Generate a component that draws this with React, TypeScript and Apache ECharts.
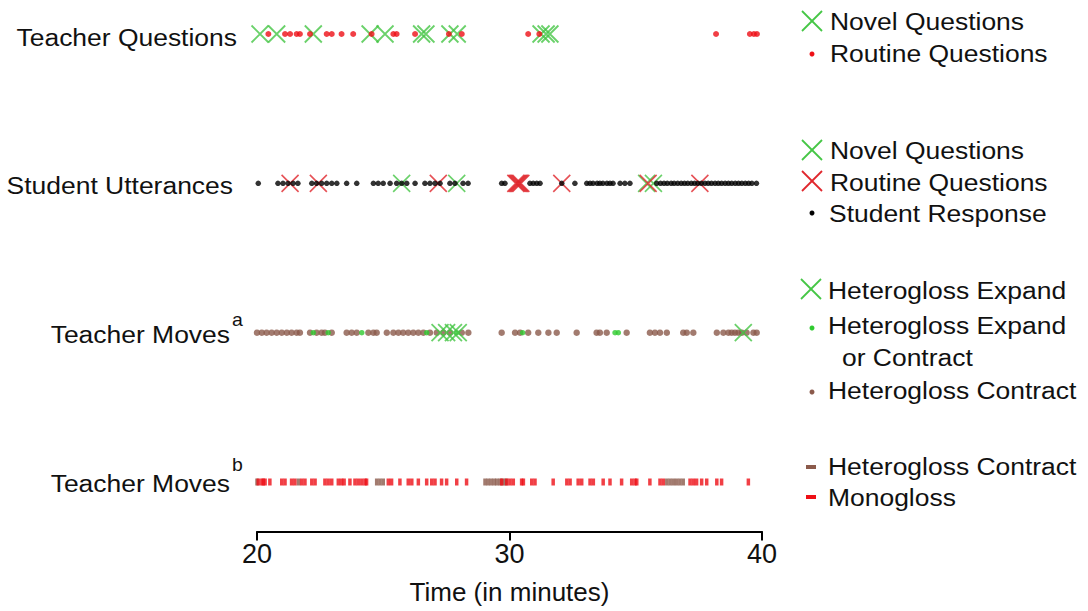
import React, { useEffect, useRef } from "react";
import * as echarts from "echarts";

// Row labels and legend labels
const rowLabels = ["Teacher Questions", "Student Utterances", "Teacher Moves", "Teacher Moves"];
const xTicks = [20, 30, 40];

// Row 1: Teacher Questions (minutes)
const tqNovel = [20.12, 20.78, 22.23, 24.48, 25.07, 26.52, 26.69, 27.64, 27.93, 31.25, 31.45, 31.6];
const tqRoutine = [20.45, 21.11, 21.31, 21.57, 21.7, 22.1, 22.76, 22.96, 23.35, 23.81, 24.54, 25.4, 25.53, 26.26, 27.6, 28.11, 30.74, 31.18, 38.18, 39.52, 39.68, 39.8];

// Row 2: Student Utterances
const suNovel = [25.73, 27.91, 35.43, 35.7];
const suRoutine = [21.31, 22.43, 27.18, 30.25, 30.3, 30.35, 30.4, 30.45, 32.07, 35.49, 37.54];
const suResponse = [20.05, 20.83, 21.03, 21.23, 21.43, 21.62, 22.17, 22.36, 22.56, 22.76, 22.96, 23.16, 23.55, 23.95, 24.61, 24.8, 25.0, 25.27, 25.53, 25.73, 25.93, 26.26, 26.65, 26.85, 27.05, 27.25, 27.64, 27.84, 28.16, 28.36, 29.69, 29.82, 30.81, 30.94, 31.08, 31.21, 32.07, 32.59, 33.06, 33.19, 33.31, 33.47, 33.58, 33.7, 33.86, 33.98, 34.1, 34.38, 34.57, 34.77, 35.83, 35.98, 36.12, 36.25, 36.4, 36.52, 36.66, 36.8, 36.93, 37.06, 37.2, 37.33, 37.46, 37.6, 37.74, 37.87, 38.0, 38.14, 38.27, 38.4, 38.54, 38.67, 38.8, 38.94, 39.07, 39.2, 39.34, 39.47, 39.6, 39.78];

// Row 3: Teacher Moves (a)
const tmaExpand = [27.25, 27.51, 27.78, 27.97, 39.26];
const tmaExpandOrContract = [22.23, 22.82, 24.15, 26.72, 27.91, 30.52, 34.18, 34.31];
const tmaContract = [20.0, 20.19, 20.38, 20.58, 20.78, 20.98, 21.18, 21.37, 21.57, 21.7, 22.1, 22.36, 22.56, 22.69, 22.96, 23.55, 23.75, 23.95, 24.41, 24.61, 24.74, 25.14, 25.4, 25.6, 25.79, 25.99, 26.19, 26.39, 26.59, 26.85, 27.12, 27.38, 27.64, 28.11, 28.37, 29.69, 30.22, 30.42, 30.74, 31.14, 31.54, 31.87, 32.66, 33.45, 33.58, 33.85, 34.64, 35.56, 35.76, 35.96, 36.23, 36.88, 37.02, 37.28, 38.21, 38.47, 38.67, 38.8, 38.93, 39.06, 39.2, 39.39, 39.66, 39.79];

// Row 4: Teacher Moves (b)
const tmbContract = [20.0, 21.64, 24.74, 24.87, 25.0, 29.03, 29.15, 29.27, 29.39, 29.5, 29.62, 29.74, 29.86, 36.23, 36.36, 36.49, 36.62, 36.75, 36.88];
const tmbMonogloss = [20.05, 20.19, 20.25, 20.32, 20.51, 20.98, 21.11, 21.37, 21.5, 21.77, 21.9, 22.17, 22.3, 22.69, 22.82, 22.96, 23.22, 23.35, 23.45, 23.68, 23.88, 24.01, 24.15, 24.28, 24.34, 25.2, 25.33, 25.66, 25.99, 26.13, 26.39, 26.72, 26.92, 27.05, 27.31, 27.51, 27.91, 28.3, 29.69, 29.89, 30.02, 30.15, 30.48, 30.55, 30.88, 31.01, 31.73, 32.27, 32.4, 32.72, 32.86, 33.19, 33.32, 33.71, 33.98, 34.44, 34.84, 34.97, 35.04, 35.56, 35.96, 36.09, 37.15, 37.28, 37.41, 37.61, 37.81, 38.21, 38.4, 39.46];

const GREEN = "#45c645";
const GREEN_DOT = "#2fca2f";
const RED = "#ee0f16";
const RED_X = "#e0262c";
const BROWN = "#8b5a4b";
const BLACK = "#000000";
const FONT = '"Liberation Sans", Arial, Helvetica, sans-serif';
const X_PATH = "path://M0,0L20,20M20,0L0,20";

const row = (arr: number[], y: number) => arr.map((t) => [t, y]);

function xSeries(data: number[], y: number, color: string, size: number, width: number) {
  return {
    type: "scatter",
    data: row(data, y),
    symbol: X_PATH,
    symbolSize: size,
    clip: false,
    silent: true,
    itemStyle: { color: "rgba(0,0,0,0)", borderColor: color, borderWidth: width },
  };
}
function dotSeries(data: number[], y: number, color: string, size: number | number[], symbol = "circle") {
  return {
    type: "scatter",
    data: row(data, y),
    symbol,
    symbolSize: size,
    clip: false,
    silent: true,
    itemStyle: { color },
  };
}

const SCALE_X = 1.08;
function txt(text: string, x: number, y: number, align = "left", size = 24.5) {
  return {
    type: "text",
    x,
    y,
    scaleX: SCALE_X,
    silent: true,
    style: {
      text,
      font: `${size}px ${FONT}`,
      fill: "#111",
      textAlign: align,
      textVerticalAlign: "middle",
    },
  };
}
function legX(cx: number, cy: number, color: string) {
  const h = 10;
  return [
    { type: "line", silent: true, shape: { x1: cx - h, y1: cy - h, x2: cx + h, y2: cy + h }, style: { stroke: color, lineWidth: 1.8 } },
    { type: "line", silent: true, shape: { x1: cx + h, y1: cy - h, x2: cx - h, y2: cy + h }, style: { stroke: color, lineWidth: 1.8 } },
  ];
}
function legDot(cx: number, cy: number, color: string, r = 2.5) {
  return { type: "circle", silent: true, shape: { cx, cy, r }, style: { fill: color } };
}
function legDash(cx: number, cy: number, color: string) {
  return { type: "rect", silent: true, shape: { x: cx - 5, y: cy - 2, width: 10, height: 4 }, style: { fill: color } };
}

export default function App() {
  const ref = useRef<HTMLDivElement>(null);
  useEffect(() => {
    if (!ref.current) return;
    const chart = echarts.init(ref.current, undefined, { renderer: "svg" });
    const option = {
      animation: false,
      backgroundColor: "#ffffff",
      grid: { left: 257, right: 326, top: 4.13, bottom: 79.5, containLabel: false },
      xAxis: {
        type: "value",
        min: xTicks[0],
        max: xTicks[xTicks.length - 1],
        interval: 10,
        axisLine: { show: true, onZero: false, lineStyle: { color: "#000", width: 2 } },
        axisTick: { show: true, length: 9, lineStyle: { color: "#000", width: 2 } },
        axisLabel: { fontSize: 27, color: "#111", margin: 9, fontFamily: FONT },
        splitLine: { show: false },
        name: "Time (in minutes)",
        nameLocation: "middle",
        nameGap: 47,
        nameTextStyle: { fontSize: 26, color: "#111", fontFamily: FONT },
      },
      yAxis: { type: "value", min: 0.6685, max: 4.2, show: false },
      series: [
        // Row 1
        xSeries(tqNovel, 4, GREEN, 17, 1.8),
        dotSeries(tqRoutine, 4, RED, 6),
        // Row 2
        xSeries(suNovel, 3, GREEN, 17, 1.6),
        xSeries(suRoutine, 3, RED_X, 17, 1.6),
        dotSeries(suResponse, 3, BLACK, 5.5),
        // Row 3
        dotSeries(tmaContract, 2, BROWN, 6.5),
        dotSeries(tmaExpandOrContract, 2, GREEN_DOT, 5.5),
        xSeries(tmaExpand, 2, GREEN, 17, 1.8),
        // Row 4
        dotSeries(tmbContract, 1, BROWN, [3.5, 7], "rect"),
        dotSeries(tmbMonogloss, 1, RED, [3.5, 7], "rect"),
      ],
      graphic: [
        // Row labels
        txt(rowLabels[0], 237, 37, "right"),
        txt(rowLabels[1], 233, 185, "right"),
        txt(rowLabels[2], 230, 334, "right"),
        txt("a", 232, 320, "left", 18),
        txt(rowLabels[3], 230, 483, "right"),
        txt("b", 232, 465, "left", 18),
        // Legend 1
        ...legX(812, 21, GREEN),
        txt("Novel Questions", 830, 21),
        legDot(812, 54, RED),
        txt("Routine Questions", 830, 53),
        // Legend 2
        ...legX(812, 150, GREEN),
        txt("Novel Questions", 830, 150),
        ...legX(812, 181, RED_X),
        txt("Routine Questions", 830, 182),
        legDot(812, 213, BLACK),
        txt("Student Response", 829, 213),
        // Legend 3
        ...legX(811, 289, GREEN),
        txt("Heterogloss Expand", 828, 290),
        legDot(812, 328, GREEN_DOT),
        txt("Heterogloss Expand", 828, 325),
        txt("or Contract", 842, 357),
        legDot(812, 392, BROWN),
        txt("Heterogloss Contract", 828, 390),
        // Legend 4
        legDash(811, 467, BROWN),
        txt("Heterogloss Contract", 828, 466),
        legDash(811, 497, RED),
        txt("Monogloss", 828, 497),
      ],
    };
    chart.setOption(option as any);
    return () => chart.dispose();
  }, []);
  return (
    <div
      ref={ref}
      style={{ position: "fixed", left: 0, top: 0, width: 1088, height: 611, background: "#fff" }}
    />
  );
}
